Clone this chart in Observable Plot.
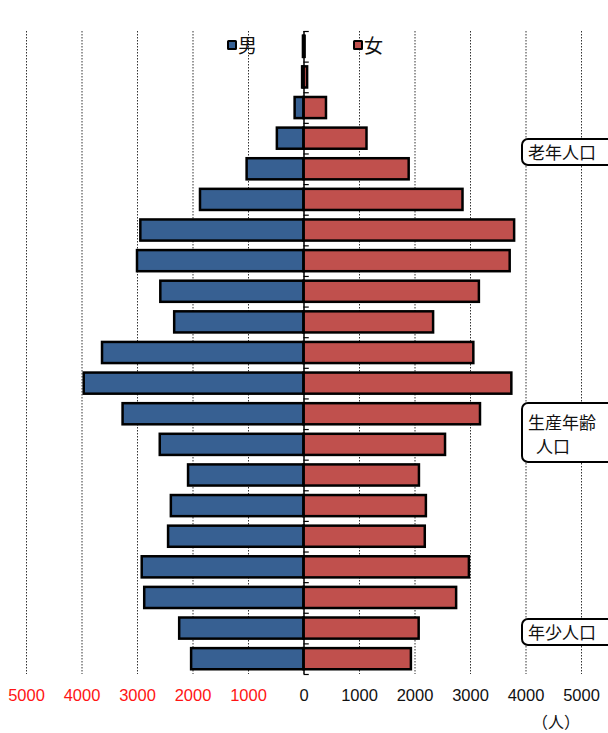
<!DOCTYPE html>
<html>
<head>
<meta charset="utf-8">
<script src="https://cdn.jsdelivr.net/npm/d3@7"></script>
<script src="https://cdn.jsdelivr.net/npm/@observablehq/plot@0.6"></script>
<style>
  html, body { margin: 0; padding: 0; background: #fff; }
  #wrap { position: relative; width: 608px; height: 733px; overflow: hidden; font-family: "Noto Sans CJK JP", sans-serif; }
  #wrap svg { position: absolute; left: 0; top: 0; }
  .lg { position: absolute; display: flex; align-items: center; font-size: 19px; color: #111; line-height: 1; }
  .sw { width: 6px; height: 6px; border: 2px solid #000; border-radius: 1.5px; margin-right: 1px; }
  .box { position: absolute; background: #fff; border: 2px solid #000; border-radius: 7px; font-size: 17px; color: #111; width: 110px; box-sizing: border-box; padding-left: 5px; }
  .unit { position: absolute; font-size: 16px; color: #111; }
</style>
</head>
<body>
<div id="wrap"></div>
<script>
// Age groups, top (oldest) to bottom (youngest)
const ages = ["100以上","95～99","90～94","85～89","80～84","75～79","70～74","65～69","60～64","55～59",
              "50～54","45～49","40～44","35～39","30～34","25～29","20～24","15～19","10～14","5～9","0～4"];
const male   = [10, 25, 160, 480, 1025, 1865, 2940, 3000, 2580, 2330, 3630, 3960, 3260, 2590, 2080, 2390, 2440, 2915, 2870, 2240, 2025];
const female = [20, 65, 405, 1135, 1895, 2865, 3795, 3715, 3160, 2335, 3060, 3745, 3180, 2550, 2080, 2205, 2185, 2980, 2750, 2075, 1935];
const xTicks = [-5000, -4000, -3000, -2000, -1000, 0, 1000, 2000, 3000, 4000, 5000];
const maleLabel = "男", femaleLabel = "女";
const boxLabels = ["老年人口", "生産年齢<br><span style=\"margin-left:8px\">人口</span>", "年少人口"];
const unitLabel = "（人）";

const rows = ages.map((age, i) => ({age, male: male[i], female: female[i]}));

const W = 608, H = 733, mT = 31, mB = 59, mL = 26, mR = 27;
const step = (H - mT - mB) / ages.length;

const chart = Plot.plot({
  width: W, height: H,
  marginTop: mT, marginBottom: mB, marginLeft: mL, marginRight: mR,
  x: {domain: [-5000, 5000], axis: null},
  y: {domain: ages, axis: null, paddingInner: 0.31, paddingOuter: 0.155, round: false},
  style: {fontFamily: "'Liberation Sans', Arial, sans-serif", background: "white"},
  marks: [
    Plot.ruleX(xTicks.filter(d => d !== 0), {x: d => d, stroke: "#333", strokeWidth: 1, strokeDasharray: "1.5,1.5"}),
    Plot.barX(rows, {y: "age", x1: 0, x2: d => -d.male, fill: "#376092", stroke: "#000", strokeWidth: 2.5}),
    Plot.barX(rows, {y: "age", x1: 0, x2: d => d.female, fill: "#C0504D", stroke: "#000", strokeWidth: 2.5}),
    Plot.ruleX([0], {stroke: "#000", strokeWidth: 1.5}),
    Plot.ruleY(ages, {y: d => d, x1: 0, x2: 95, dy: step / 2, stroke: "#000", strokeWidth: 1.2}),
    Plot.ruleY([ages[0]], {y: d => d, x1: 0, x2: 95, dy: -step / 2, stroke: "#000", strokeWidth: 1.2}),
    Plot.text(xTicks.filter(d => d < 0), {x: d => d, text: d => String(Math.abs(d)), frameAnchor: "bottom", dy: 21, fill: "#ff1414", fontSize: 16.5, lineAnchor: "middle"}),
    Plot.text(xTicks.filter(d => d >= 0), {x: d => d, text: d => String(d), frameAnchor: "bottom", dy: 21, fill: "#111", fontSize: 16.5, lineAnchor: "middle"})
  ]
});

const wrap = document.getElementById("wrap");
wrap.appendChild(chart);

function add(html, cls, style) {
  const d = document.createElement("div");
  d.className = cls;
  d.innerHTML = html;
  Object.assign(d.style, style);
  wrap.appendChild(d);
  return d;
}
add(`<div class="sw" style="background:#376092"></div><span>${maleLabel}</span>`, "lg", {left: "227px", top: "35px"});
add(`<div class="sw" style="background:#C0504D"></div><span>${femaleLabel}</span>`, "lg", {left: "353px", top: "35px"});
add(boxLabels[0], "box", {left: "521px", top: "138px", height: "28px", lineHeight: "24px"});
add(boxLabels[1], "box", {left: "521px", top: "402px", height: "61px", lineHeight: "24px", paddingTop: "6px"});
add(boxLabels[2], "box", {left: "521px", top: "618px", height: "28px", lineHeight: "24px"});
add(unitLabel, "unit", {left: "532px", top: "709px"});
</script>
</body>
</html>
